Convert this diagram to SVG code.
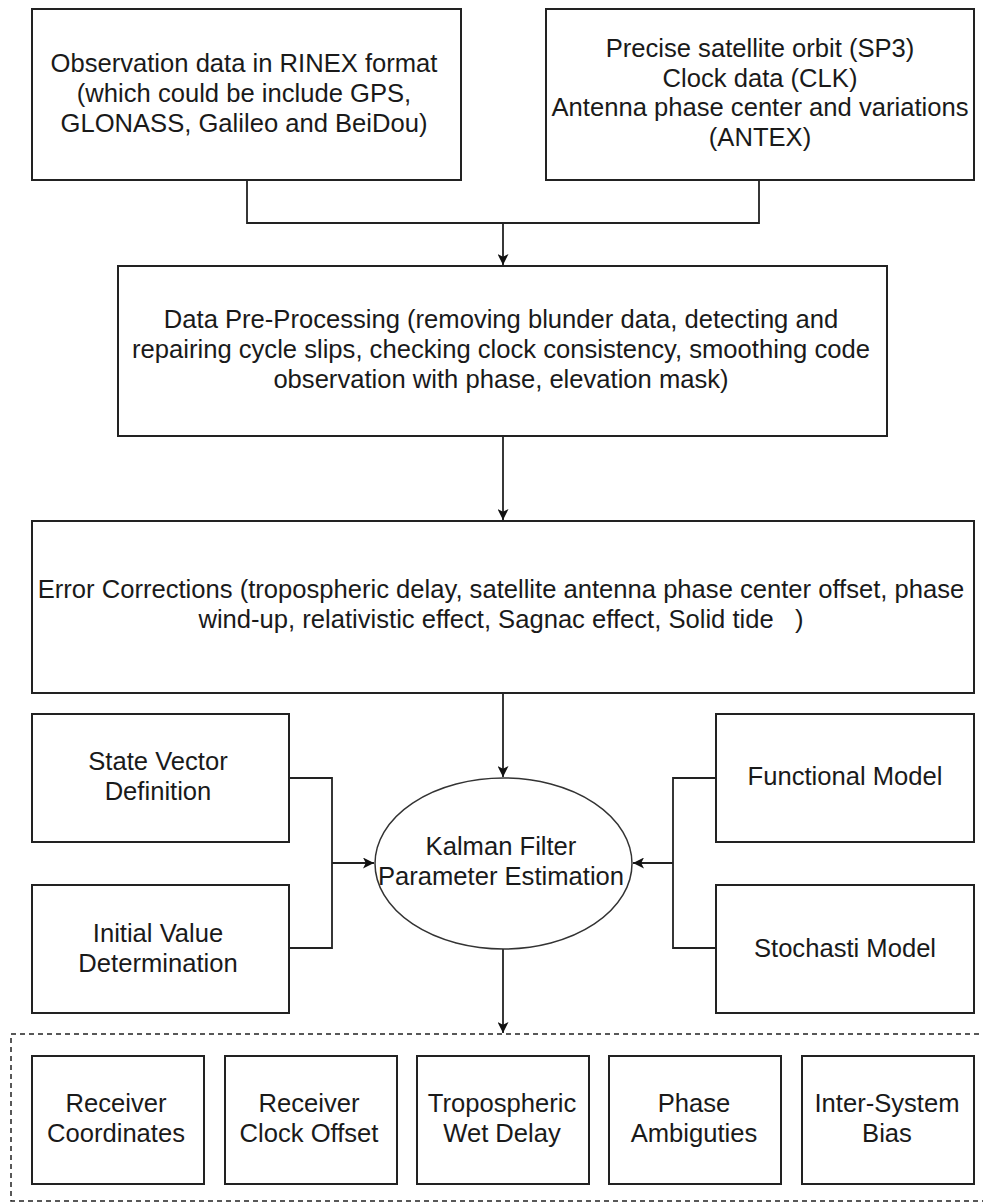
<svg xmlns="http://www.w3.org/2000/svg" width="983" height="1203" viewBox="0 0 983 1203">
<style>
.box{fill:#fff;stroke:#222;stroke-width:2}
.t{font-family:"Liberation Sans",Arial,sans-serif;font-size:25.6px;fill:#1a1a1a;text-anchor:middle}
.c{fill:none;stroke:#222;stroke-width:1.8}
</style>
<defs>
<marker id="ah" viewBox="0 0 10 10" refX="10" refY="5" markerWidth="11" markerHeight="11" markerUnits="userSpaceOnUse" orient="auto">
<path d="M0,0 L10,5 L0,10 L2.5,5 z" fill="#111"/>
</marker>
</defs>
<rect width="983" height="1203" fill="#fff"/>

<g id="connectors">
<path class="c" d="M247,180 V223 H759 V180"/>
<path class="c" d="M503,223 V265" marker-end="url(#ah)"/>
<path class="c" d="M503,436 V520" marker-end="url(#ah)"/>
<path class="c" d="M503,693 V777" marker-end="url(#ah)"/>
<path class="c" d="M289,778 H332 V948 H289"/>
<path class="c" d="M332,863 H374" marker-end="url(#ah)"/>
<path class="c" d="M716,778 H673 V948 H716"/>
<path class="c" d="M673,863 H633" marker-end="url(#ah)"/>
<path class="c" d="M503,949 V1033" marker-end="url(#ah)"/>
</g>

<g id="obs">
<rect class="box" x="32" y="9" width="429" height="171"/>
<text class="t" x="244" y="72">Observation data in RINEX format</text>
<text class="t" x="244" y="102">(which could be include GPS,</text>
<text class="t" x="244" y="132">GLONASS, Galileo and BeiDou)</text>
</g>

<g id="precise">
<rect class="box" x="546" y="9" width="428" height="171"/>
<text class="t" x="760" y="57">Precise satellite orbit (SP3)</text>
<text class="t" x="760" y="87">Clock data (CLK)</text>
<text class="t" x="760" y="116">Antenna phase center and variations</text>
<text class="t" x="760" y="146">(ANTEX)</text>
</g>

<g id="preproc">
<rect class="box" x="118" y="266" width="769" height="170"/>
<text class="t" x="501" y="328">Data Pre-Processing (removing blunder data, detecting and</text>
<text class="t" x="501" y="358">repairing cycle slips, checking clock consistency, smoothing code</text>
<text class="t" x="501" y="388">observation with phase, elevation mask)</text>
</g>

<g id="errcorr">
<rect class="box" x="32" y="521" width="942" height="172"/>
<text class="t" x="501" y="598">Error Corrections (tropospheric delay, satellite antenna phase center offset, phase</text>
<text class="t" x="501" y="628" xml:space="preserve">wind-up, relativistic effect, Sagnac effect, Solid tide   )</text>
</g>

<g id="statevec">
<rect class="box" x="32" y="714" width="257" height="128"/>
<text class="t" x="158" y="770">State Vector</text>
<text class="t" x="158" y="800">Definition</text>
</g>

<g id="initval">
<rect class="box" x="32" y="885" width="257" height="128"/>
<text class="t" x="158" y="942">Initial Value</text>
<text class="t" x="158" y="972">Determination</text>
</g>

<g id="kalman">
<ellipse cx="503.5" cy="863.5" rx="128.5" ry="85.5" fill="#fff" stroke="#333" stroke-width="1.5"/>
<text class="t" x="501" y="855">Kalman Filter</text>
<text class="t" x="501" y="885">Parameter Estimation</text>
</g>

<g id="functional">
<rect class="box" x="716" y="714" width="258" height="128"/>
<text class="t" x="845" y="785">Functional Model</text>
</g>

<g id="stochastic">
<rect class="box" x="716" y="885" width="258" height="128"/>
<text class="t" x="845" y="957">Stochasti Model</text>
</g>

<g id="outputs">
<rect x="11" y="1034" width="985" height="167" fill="none" stroke="#222" stroke-width="1.5" stroke-dasharray="5,4"/>
</g>

<g id="recv-coord">
<rect class="box" x="32" y="1056" width="172" height="128"/>
<text class="t" x="116" y="1112">Receiver</text>
<text class="t" x="116" y="1142">Coordinates</text>
</g>
<g id="recv-clock">
<rect class="box" x="225" y="1056" width="172" height="128"/>
<text class="t" x="309" y="1112">Receiver</text>
<text class="t" x="309" y="1142">Clock Offset</text>
</g>
<g id="tropo">
<rect class="box" x="417" y="1056" width="172" height="128"/>
<text class="t" x="502" y="1112">Tropospheric</text>
<text class="t" x="502" y="1142">Wet Delay</text>
</g>
<g id="phase">
<rect class="box" x="609" y="1056" width="172" height="128"/>
<text class="t" x="694" y="1112">Phase</text>
<text class="t" x="694" y="1142">Ambiguties</text>
</g>
<g id="isb">
<rect class="box" x="802" y="1056" width="172" height="128"/>
<text class="t" x="887" y="1112">Inter-System</text>
<text class="t" x="887" y="1142">Bias</text>
</g>
</svg>
